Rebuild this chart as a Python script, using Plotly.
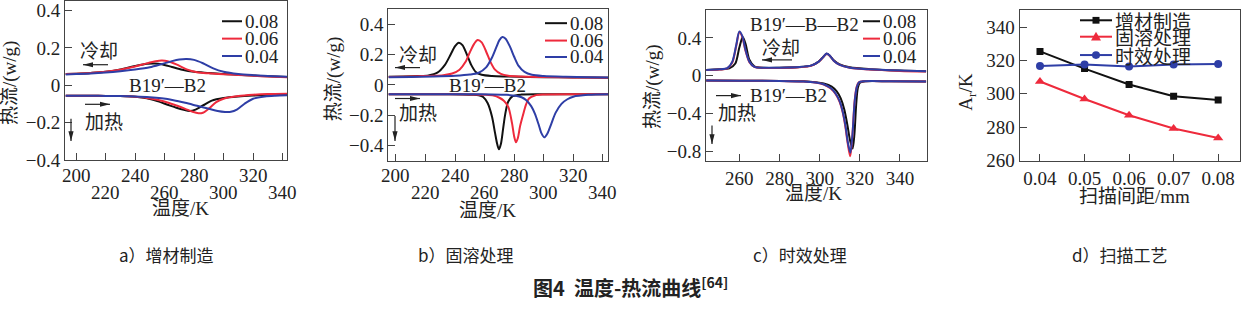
import plotly.graph_objects as go

# ---------------- data ----------------
series_labels = ["0.08", "0.06", "0.04"]

# a) 增材制造  (cooling upper, heating lower)
a_cool_008_T = [193, 200, 210, 220, 230, 240, 248, 253, 258, 265, 272, 280, 290, 300, 310, 320, 330, 343]
a_cool_008_v = [0.060, 0.062, 0.066, 0.072, 0.085, 0.103, 0.115, 0.117, 0.113, 0.098, 0.083, 0.072, 0.066, 0.060, 0.056, 0.052, 0.048, 0.044]
a_cool_006_T = [193, 200, 210, 220, 230, 240, 248, 254, 258, 262, 268, 275, 282, 290, 300, 310, 320, 330, 343]
a_cool_006_v = [0.060, 0.062, 0.066, 0.072, 0.083, 0.100, 0.117, 0.128, 0.132, 0.129, 0.112, 0.085, 0.070, 0.064, 0.059, 0.055, 0.051, 0.047, 0.043]
a_cool_004_T = [193, 200, 210, 220, 230, 240, 250, 258, 265, 270, 275, 280, 286, 293, 300, 310, 320, 330, 343]
a_cool_004_v = [0.058, 0.060, 0.063, 0.068, 0.075, 0.084, 0.096, 0.113, 0.129, 0.138, 0.141, 0.136, 0.118, 0.090, 0.072, 0.060, 0.054, 0.050, 0.045]

a_heat_008_T = [193, 200, 210, 220, 230, 240, 248, 255, 262, 268, 273, 277, 281, 286, 292, 300, 310, 320, 330, 343]
a_heat_008_v = [-0.056, -0.056, -0.056, -0.057, -0.058, -0.062, -0.070, -0.085, -0.104, -0.120, -0.131, -0.137, -0.130, -0.108, -0.082, -0.068, -0.060, -0.055, -0.051, -0.049]
a_heat_006_T = [193, 200, 210, 220, 230, 240, 248, 255, 262, 268, 274, 279, 283, 286, 290, 295, 300, 310, 320, 330, 343]
a_heat_006_v = [-0.056, -0.056, -0.056, -0.057, -0.058, -0.062, -0.068, -0.078, -0.092, -0.108, -0.126, -0.142, -0.150, -0.147, -0.125, -0.090, -0.072, -0.058, -0.051, -0.047, -0.045]
a_heat_004_T = [193, 200, 210, 220, 230, 240, 250, 258, 266, 274, 282, 290, 296, 301, 305, 309, 314, 320, 328, 335, 343]
a_heat_004_v = [-0.056, -0.056, -0.056, -0.057, -0.058, -0.060, -0.064, -0.070, -0.080, -0.094, -0.110, -0.126, -0.138, -0.143, -0.142, -0.130, -0.100, -0.072, -0.060, -0.056, -0.054]

# b) 固溶处理
b_cool_008_T = [195, 205, 215, 222, 228, 233, 237, 240, 242.5, 245, 248, 251, 254, 258, 265, 275, 290, 310, 330, 344]
b_cool_008_v = [0.053, 0.055, 0.058, 0.062, 0.080, 0.130, 0.200, 0.255, 0.278, 0.262, 0.200, 0.130, 0.085, 0.066, 0.058, 0.055, 0.052, 0.050, 0.048, 0.047]
b_cool_006_T = [195, 205, 215, 225, 232, 238, 243, 247, 250, 253, 255.3, 258, 261, 264, 267, 271, 276, 285, 300, 320, 344]
b_cool_006_v = [0.052, 0.054, 0.057, 0.060, 0.064, 0.075, 0.100, 0.150, 0.215, 0.272, 0.295, 0.280, 0.220, 0.150, 0.100, 0.072, 0.060, 0.055, 0.051, 0.049, 0.047]
b_cool_004_T = [195, 210, 225, 240, 250, 256, 261, 265, 268, 270, 272, 274, 277, 280, 283, 287, 292, 300, 315, 330, 344]
b_cool_004_v = [0.050, 0.052, 0.055, 0.060, 0.068, 0.080, 0.115, 0.180, 0.250, 0.295, 0.315, 0.305, 0.255, 0.185, 0.125, 0.085, 0.066, 0.058, 0.053, 0.050, 0.048]

b_heat_008_T = [195, 210, 230, 245, 252, 256, 259, 262, 265, 267, 268.5, 269.7, 271, 272.5, 274, 276, 279, 285, 300, 344]
b_heat_008_v = [-0.062, -0.062, -0.062, -0.063, -0.065, -0.069, -0.080, -0.120, -0.210, -0.315, -0.390, -0.425, -0.390, -0.290, -0.190, -0.110, -0.075, -0.064, -0.062, -0.062]
b_heat_006_T = [195, 210, 230, 250, 260, 266, 270, 273, 276, 278.5, 280, 281.2, 282.5, 284, 286.3, 288, 290, 294, 300, 320, 344]
b_heat_006_v = [-0.062, -0.062, -0.062, -0.063, -0.065, -0.070, -0.085, -0.105, -0.145, -0.251, -0.340, -0.378, -0.350, -0.272, -0.187, -0.130, -0.090, -0.070, -0.064, -0.062, -0.062]
b_heat_004_T = [195, 210, 230, 250, 265, 275, 281, 285, 288, 291.5, 294, 296.5, 298.5, 300.4, 302.5, 305, 308, 312, 316, 320, 330, 344]
b_heat_004_v = [-0.062, -0.062, -0.062, -0.062, -0.063, -0.066, -0.072, -0.082, -0.100, -0.140, -0.190, -0.260, -0.320, -0.346, -0.320, -0.260, -0.185, -0.125, -0.095, -0.078, -0.066, -0.062]

# c) 时效处理
c_cool_008_T = [243.5, 250, 255, 258, 260, 261.7, 263.2, 265, 267.5, 272, 280, 290, 296, 299.5, 302, 303.5, 305, 307, 310, 315, 325, 340, 353]
c_cool_008_v = [0.062, 0.068, 0.078, 0.130, 0.300, 0.410, 0.330, 0.170, 0.100, 0.085, 0.085, 0.092, 0.110, 0.150, 0.205, 0.232, 0.212, 0.165, 0.120, 0.090, 0.070, 0.055, 0.048]
c_cool_006_T = [243.5, 250, 254, 256.5, 258.5, 260, 261.5, 263, 265, 267.5, 272, 280, 290, 296, 299.5, 302, 303.5, 305, 307, 310, 315, 325, 340, 353]
c_cool_006_v = [0.060, 0.066, 0.078, 0.140, 0.320, 0.460, 0.410, 0.270, 0.145, 0.095, 0.083, 0.083, 0.090, 0.108, 0.148, 0.203, 0.233, 0.213, 0.160, 0.115, 0.085, 0.066, 0.052, 0.045]
c_cool_004_T = [243.5, 250, 254, 256.5, 258.5, 260, 261.5, 263, 265, 267.5, 272, 280, 290, 296, 299.5, 302, 303.5, 305, 307, 310, 315, 325, 340, 353]
c_cool_004_v = [0.062, 0.068, 0.080, 0.150, 0.330, 0.470, 0.420, 0.280, 0.150, 0.095, 0.085, 0.085, 0.092, 0.110, 0.150, 0.205, 0.235, 0.215, 0.160, 0.115, 0.085, 0.068, 0.055, 0.048]

c_heat_008_T = [243.5, 260, 280, 292, 298, 302, 306, 308.5, 310.5, 312.3, 313.8, 315.2, 316.4, 317.3, 318.2, 319, 320, 322, 335, 353]
c_heat_008_v = [-0.050, -0.052, -0.054, -0.058, -0.068, -0.082, -0.115, -0.165, -0.240, -0.360, -0.520, -0.690, -0.770, -0.620, -0.300, -0.130, -0.075, -0.060, -0.058, -0.060]
c_heat_006_T = [243.5, 260, 280, 292, 298, 302, 305.5, 308, 310, 311.5, 312.8, 314, 315.2, 316.2, 317.4, 318.4, 319.5, 322, 335, 353]
c_heat_006_v = [-0.050, -0.052, -0.054, -0.060, -0.072, -0.092, -0.135, -0.195, -0.280, -0.390, -0.540, -0.720, -0.852, -0.660, -0.270, -0.120, -0.070, -0.058, -0.058, -0.060]
c_heat_004_T = [243.5, 260, 280, 292, 298, 302, 305.5, 308, 310, 311.5, 312.8, 314, 315.3, 316.3, 317.5, 318.5, 319.5, 322, 335, 353]
c_heat_004_v = [-0.050, -0.052, -0.054, -0.060, -0.072, -0.090, -0.130, -0.190, -0.270, -0.380, -0.520, -0.700, -0.815, -0.630, -0.260, -0.120, -0.070, -0.058, -0.058, -0.060]

# d) 扫描工艺
d_spacing = [0.04, 0.05, 0.06, 0.07, 0.08]
d_names = ["增材制造", "固溶处理", "时效处理"]
d_am = [325.4, 315.1, 305.6, 298.6, 296.3]
d_st = [307.4, 296.9, 287.2, 279.2, 273.6]
d_ag = [316.7, 317.5, 316.3, 317.5, 317.9]

ticks_ab = [200, 220, 240, 260, 280, 300, 320, 340]
ticks_c = [260, 280, 300, 320, 340]

# ---------------- styling ----------------
W, H = 1246, 322
BLACK, RED, BLUE = "#111111", "#ee2a3c", "#2e3ea6"
COLS = [BLACK, RED, BLUE]
TXT = "#222222"
AX = "#444444"
SERIF = "Liberation Serif, Noto Sans CJK SC"
CJK = "Noto Sans CJK SC"


def fx(p):
    return p / W


def fy(p):
    return 1 - p / H


fig = go.Figure()

curves = {
    1: [(a_cool_008_T, a_cool_008_v, a_heat_008_T, a_heat_008_v),
        (a_cool_006_T, a_cool_006_v, a_heat_006_T, a_heat_006_v),
        (a_cool_004_T, a_cool_004_v, a_heat_004_T, a_heat_004_v)],
    2: [(b_cool_008_T, b_cool_008_v, b_heat_008_T, b_heat_008_v),
        (b_cool_006_T, b_cool_006_v, b_heat_006_T, b_heat_006_v),
        (b_cool_004_T, b_cool_004_v, b_heat_004_T, b_heat_004_v)],
    3: [(c_cool_008_T, c_cool_008_v, c_heat_008_T, c_heat_008_v),
        (c_cool_006_T, c_cool_006_v, c_heat_006_T, c_heat_006_v),
        (c_cool_004_T, c_cool_004_v, c_heat_004_T, c_heat_004_v)],
}

for k, sets in curves.items():
    xa = "x" if k == 1 else f"x{k}"
    ya = "y" if k == 1 else f"y{k}"
    for (ct, cv, ht, hv), col, lab in zip(sets, COLS, series_labels):
        for tt, vv in ((ct, cv), (ht, hv)):
            fig.add_trace(go.Scatter(x=tt, y=vv, mode="lines", name=lab,
                                     line=dict(color=col, width=2, shape="spline", smoothing=0.8),
                                     xaxis=xa, yaxis=ya, showlegend=False, hoverinfo="skip"))

d_series = [(d_am, BLACK, "square", 7), (d_st, RED, "triangle-up", 9), (d_ag, BLUE, "circle", 8)]
for (vals, col, sym, ms), nm in zip(d_series, d_names):
    fig.add_trace(go.Scatter(x=d_spacing, y=vals, mode="lines+markers", name=nm,
                             line=dict(color=col, width=2),
                             marker=dict(symbol=sym, size=ms, color=col),
                             xaxis="x4", yaxis="y4", showlegend=False))

axcommon = dict(showline=True, mirror=True, linecolor=AX, linewidth=1, ticks="inside",
                ticklen=7, tickcolor=AX, showgrid=False, zeroline=False,
                tickfont=dict(family=SERIF, size=19, color=TXT))

layout = dict(
    width=W, height=H, margin=dict(l=0, r=0, t=0, b=0),
    paper_bgcolor="white", plot_bgcolor="white", showlegend=False,
    xaxis=dict(domain=[fx(65), fx(287)], range=[192.5, 343], tickvals=ticks_ab,
               showticklabels=False, anchor="y", **axcommon),
    yaxis=dict(domain=[fy(165.7), fy(1)], range=[-0.4, 0.451], tickvals=[-0.4, -0.2, 0, 0.2, 0.4],
               anchor="x", **axcommon),
    xaxis2=dict(domain=[fx(388.3), fx(608.3)], range=[194.8, 343.7], tickvals=ticks_ab,
                showticklabels=False, anchor="y2", **axcommon),
    yaxis2=dict(domain=[fy(166.7), fy(9)], range=[-0.502, 0.502], tickvals=[-0.4, -0.2, 0, 0.2, 0.4],
                anchor="x2", **axcommon),
    xaxis3=dict(domain=[fx(706), fx(926.7)], range=[243.4, 353.3], tickvals=ticks_c,
                anchor="y3", **axcommon),
    yaxis3=dict(domain=[fy(166.7), fy(10)], range=[-0.902, 0.70], tickvals=[-0.8, -0.4, 0, 0.4],
                anchor="x3", **axcommon),
    xaxis4=dict(domain=[fx(1019.5), fx(1240)], range=[0.0354, 0.0849], tickvals=d_spacing,
                ticktext=[f"{v:.2f}" for v in d_spacing], anchor="y4", **axcommon),
    yaxis4=dict(domain=[fy(167), fy(10)], range=[259.6, 350.4], tickvals=[260, 280, 300, 320, 340],
                anchor="x4", **axcommon),
)

ann = []
shapes = []


def text(x, y, s, size=19, family=SERIF, xanchor="center", angle=0, bold=False):
    ann.append(dict(x=fx(x), y=fy(y), xref="paper", yref="paper", text=s, showarrow=False,
                    xanchor=xanchor, yanchor="middle", textangle=angle,
                    font=dict(family=family, size=size, color=TXT,
                              weight="bold" if bold else "normal")))


def arrow(x0, y0, x1, y1):
    # direction arrows drawn as shapes: shaft line + narrow filled head
    shapes.append(dict(type="line", xref="paper", yref="paper", x0=fx(x0), y0=fy(y0),
                       x1=fx(x1), y1=fy(y1), line=dict(color="#222", width=1.2)))
    dx, dy = x1 - x0, y1 - y0
    L = (dx * dx + dy * dy) ** 0.5
    ux, uy = dx / L, dy / L
    hl, hw = 10, 2.6
    bx, by = x1 - ux * hl, y1 - uy * hl
    px_, py_ = -uy * hw, ux * hw
    p = (f"M {fx(x1)} {fy(y1)} L {fx(bx + px_)} {fy(by + py_)} "
         f"L {fx(bx - px_)} {fy(by - py_)} Z")
    shapes.append(dict(type="path", xref="paper", yref="paper", path=p, fillcolor="#222",
                       line=dict(width=0)))


def hline(x0, x1, y, col):
    shapes.append(dict(type="line", xref="paper", yref="paper", x0=fx(x0), x1=fx(x1),
                       y0=fy(y), y1=fy(y), line=dict(color=col, width=2)))


# staggered x tick labels for a) and b)
for xr, ticks in (("x", ticks_ab), ("x2", ticks_ab)):
    for i, t in enumerate(ticks):
        ann.append(dict(x=t, y=fy(182 if i % 2 == 0 else 199), xref=xr, yref="paper",
                        text=str(t), showarrow=False, xanchor="center", yanchor="middle",
                        font=dict(family=SERIF, size=19, color=TXT)))

# axis titles
text(10, 86, "热流/(w/g)", angle=-90)
text(180, 216, "温度/K")
text(334, 82, "热流/(w/g)", angle=-90)
text(487, 218, "温度/K")
text(653, 90, "热流/(w/g)", angle=-90)
text(813, 200, "温度/K")
text(967, 95, "A<sub>r</sub>/K", angle=-90)
text(1134, 203, "扫描间距/mm")

# panel a annotations
text(99, 53, "冷却")
arrow(108, 67, 83, 67)
text(167, 89, "B19′—B2")
arrow(85, 108, 110, 108)
text(104, 127, "加热")
arrow(71, 123, 71, 146)

# panel b annotations
text(418, 57, "冷却")
arrow(420, 70, 395, 70)
text(488, 89, "B19′—B2")
arrow(395, 102, 420, 102)
text(418, 117, "加热")
arrow(395, 120, 395, 146)

# panel c annotations
text(804, 25, "B19′—B—B2")
text(781, 50, "冷却")
arrow(792, 62, 762, 62)
arrow(716, 99, 741, 99)
text(788, 99, "B19′—B2")
text(737, 118, "加热")
arrow(712, 130, 712, 149)

# legends a, b, c
for (lx0, lx1, rows) in ((222, 242, (22, 40, 58)), (545, 567, (24, 42, 59)), (863, 880, (22, 40, 58))):
    for col, lab, yy in zip(COLS, series_labels, rows):
        hline(lx0, lx1, yy, col)
        text(lx1 + 1, yy, lab, xanchor="left")

# legend d
for (vals, col, sym, ms), nm, yy in zip(d_series, d_names, (21, 38, 57)):
    hline(1080, 1112, yy, col)
    cx = 1096
    if sym == "square":
        shapes.append(dict(type="rect", xref="paper", yref="paper", x0=fx(cx - 3.5), x1=fx(cx + 3.5),
                           y0=fy(yy + 3.5), y1=fy(yy - 3.5), fillcolor=col, line=dict(width=0)))
    elif sym == "circle":
        shapes.append(dict(type="circle", xref="paper", yref="paper", x0=fx(cx - 4), x1=fx(cx + 4),
                           y0=fy(yy + 4), y1=fy(yy - 4), fillcolor=col, line=dict(width=0)))
    else:
        p = f"M {fx(cx - 5)} {fy(yy + 4)} L {fx(cx + 5)} {fy(yy + 4)} L {fx(cx)} {fy(yy - 5)} Z"
        shapes.append(dict(type="path", xref="paper", yref="paper", path=p, fillcolor=col,
                           line=dict(width=0)))
    text(1113, yy, nm, size=19, family=CJK, xanchor="left")

# captions
text(166, 263, "a）增材制造", size=17, family=CJK)
text(466, 263, "b）固溶处理", size=17, family=CJK)
text(800, 263, "c）时效处理", size=17, family=CJK)
text(1120, 263, "d）扫描工艺", size=17, family=CJK)
text(630, 297, "图4  温度-热流曲线<sup>[64]</sup>", size=20, family=CJK, bold=True)

layout["annotations"] = ann
layout["shapes"] = shapes
fig.update_layout(**layout)
fig.write_html("out.html")
